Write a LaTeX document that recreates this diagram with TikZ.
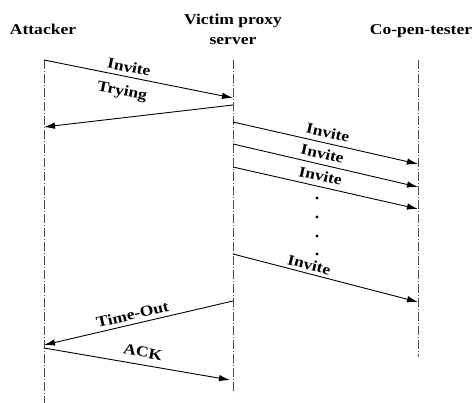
\documentclass[tikz,border=0pt]{standalone}
\usepackage{fontspec}
\usepackage{graphicx}
\setmainfont{Liberation Serif}
\usetikzlibrary{arrows.meta}

% Bold serif text, set a little wider than normal
\newcommand{\widetxt}[1]{\scalebox{1.17}[1]{#1}}

\begin{document}
\begin{tikzpicture}[x=1pt,y=-1pt,
    lifeline/.style={line width=0.9pt, draw=black!70,
        dash pattern=on 9pt off 2pt on 1pt off 2pt},
    msg/.style={line width=0.9pt, -{Latex[length=11pt,width=6.5pt]}},
    lbl/.style={font=\fontsize{15}{20}\selectfont\bfseries, inner sep=1pt},
    title/.style={font=\fontsize{15}{20}\selectfont\bfseries, inner sep=0pt, align=center}]

\useasboundingbox (0,0) rectangle (475,403);

% Participants
\node[title, anchor=base] (attacker) at (43,35) {\widetxt{Attacker}};
\node[title] (proxy) at (233,29) {\widetxt{Victim proxy}\\\widetxt{server}};
\node[title, anchor=base] (tester) at (421,35) {\widetxt{Co-pen-tester}};

% Lifelines
\coordinate (aTop) at (44,60);   \coordinate (aBot) at (44,403);
\coordinate (pTop) at (233,60);  \coordinate (pBot) at (233,393);
\coordinate (tTop) at (418,60);  \coordinate (tBot) at (418,357);
\draw[lifeline] (aTop) -- (aBot);
\draw[lifeline] (pTop) -- (pBot);
\draw[lifeline] (tTop) -- (tBot);

% Message end points on the lifelines
\coordinate (a1) at (44,60);   \coordinate (p1) at (233,98);
\coordinate (p2) at (233,105); \coordinate (a2) at (44,127);
\coordinate (p3) at (233,122); \coordinate (t3) at (418,164);
\coordinate (p4) at (233,144); \coordinate (t4) at (418,187);
\coordinate (p5) at (233,167); \coordinate (t5) at (418,209);
\coordinate (p7) at (233,254); \coordinate (t7) at (418,302);
\coordinate (p8) at (233,301); \coordinate (a8) at (44,345);
\coordinate (a9) at (44,348);  \coordinate (p9) at (230,380);

% Messages
\draw[msg] (a1) -- node[lbl, sloped, above=3pt, pos=0.44] (m1) {\widetxt{Invite}} (p1);
\draw[msg] (p2) -- (a2);
\node[lbl, rotate=-11.5] (m2) at (122,92) {\widetxt{Trying}};
\draw[msg] (p3) -- node[lbl, sloped, above=4pt, pos=0.5] (m3) {\widetxt{Invite}} (t3);
\draw[msg] (p4) -- node[lbl, sloped, above=4pt, pos=0.47] (m4) {\widetxt{Invite}} (t4);
\draw[msg] (p5) -- node[lbl, sloped, above=4pt, pos=0.46] (m5) {\widetxt{Invite}} (t5);

% Further invites omitted
\foreach \y in {198,217,236,254}
  \fill (317,\y) circle (1.6pt);

\draw[msg] (p7) -- node[lbl, sloped, above=2pt, pos=0.4] (m7) {\widetxt{Invite}} (t7);
\draw[msg] (p8) -- node[lbl, sloped, above=3pt, pos=0.52] (m8) {\widetxt{Time-Out}} (a8);
\draw[msg] (a9) -- node[lbl, sloped, above=6pt, pos=0.52] (m9) {\widetxt{ACK}} (p9);

\end{tikzpicture}
\end{document}
